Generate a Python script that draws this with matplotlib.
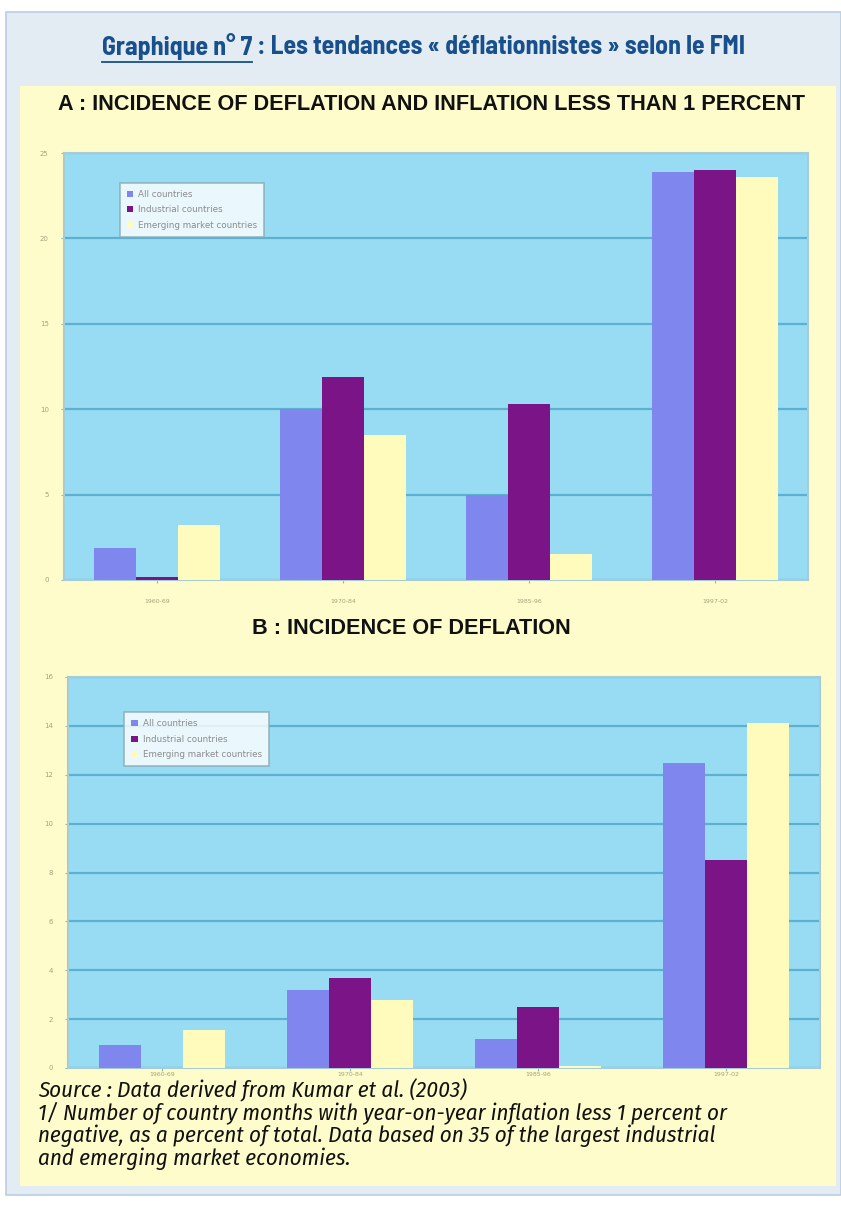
import matplotlib
matplotlib.use("Agg")
import matplotlib.pyplot as plt
import numpy as np
from matplotlib.patches import Rectangle

# Data (percent of country months)
periods = ["1960-69", "1970-84", "1985-96", "1997-02"]
series_names = ["All countries", "Industrial countries", "Emerging market countries"]

low_infl_all = [1.9, 10.0, 5.0, 23.9]
low_infl_ind = [0.2, 11.9, 10.3, 24.0]
low_infl_em = [3.2, 8.5, 1.5, 23.6]
yticks_a = [0, 5, 10, 15, 20, 25]

defl_all = [0.95, 3.2, 1.2, 12.5]
defl_ind = [0.0, 3.7, 2.5, 8.5]
defl_em = [1.55, 2.8, 0.1, 14.1]
yticks_b = [0, 2, 4, 6, 8, 10, 12, 14, 16]

W, H = 841, 1206
COL_ALL = "#7f86ee"
COL_IND = "#7a1487"
COL_EM = "#fffbbd"
PLOT_BG = "#98dcf4"
GRID = "#5eb0cf"
PANEL = "#fdfcca"
FRAME = "#e3ebf3"
TITLE_BLUE = "#17508c"
TICK_COL = "#a7a27e"
TITLE_FONT = ["Barlow Semi Condensed", "Liberation Sans"]
BODY_FONT = ["Fira Sans Condensed", "Liberation Sans"]


def px(x, y, w, h):
    # pixel box (top-left origin) -> figure fraction
    return [x / W, 1 - (y + h) / H, w / W, h / H]


fig = plt.figure(figsize=(W / 100, H / 100), dpi=100)
fig.patch.set_facecolor("white")
renderer = fig.canvas.get_renderer()

bg = fig.add_axes([0, 0, 1, 1])
bg.set_xlim(0, W)
bg.set_ylim(H, 0)
bg.axis("off")
bg.add_patch(Rectangle((6, 12), W - 6, 1183, facecolor=FRAME, edgecolor="#b9cfe3", lw=1.2))
bg.add_patch(Rectangle((20, 86), 816, 1100, facecolor=PANEL, edgecolor="none"))


def fit_text(x, y, s, width, family, size=12, **kw):
    # place text, then rescale its font size so it spans the given pixel width
    t = bg.text(x, y, s, fontsize=size, family=family, **kw)
    w0 = t.get_window_extent(renderer).width
    t.set_fontsize(size * width / w0)
    return t


# Title with underlined lead
title_lead = "Graphique n° 7"
title_rest = " : Les tendances « déflationnistes » selon le FMI"
tt = fit_text(102, 47, title_lead + title_rest, 646, TITLE_FONT, fontweight="bold",
              color=TITLE_BLUE, va="center", ha="left")
size = tt.get_fontsize()
tt.set_text(title_lead)
x_end = 102 + tt.get_window_extent(renderer).width
bg.plot([102, x_end], [62, 62], color=TITLE_BLUE, lw=1.3)
bg.text(x_end, 47, title_rest, fontsize=size, fontweight="bold", family=TITLE_FONT,
        color=TITLE_BLUE, va="center", ha="left")

sub_a = fit_text(432, 104, "A : INCIDENCE OF DEFLATION AND INFLATION LESS THAN 1 PERCENT", 744,
                 ["Liberation Sans"], fontweight="bold", color="#111111", va="center",
                 ha="center")
bg.text(411, 629, "B : INCIDENCE OF DEFLATION", fontsize=sub_a.get_fontsize(),
        family=["Liberation Sans"], fontweight="bold", color="#111111", va="center",
        ha="center")

notes = ["Source : Data derived from Kumar et al. (2003)",
         "1/ Number of country months with year-on-year inflation less 1 percent or",
         "negative, as a percent of total. Data based on 35 of the largest industrial",
         "and emerging market economies."]
note_y = [1090, 1113, 1136, 1159]
ref = fit_text(38, note_y[1], notes[1], 690, BODY_FONT, style="italic", color="#111111",
               va="center", ha="left")
note_size = ref.get_fontsize()
for i, line in enumerate(notes):
    if i == 1:
        continue
    bg.text(38, note_y[i], line, fontsize=note_size, style="italic", family=BODY_FONT,
            color="#111111", va="center", ha="left")


def bar_panel(rect, a, b, c, ticks, legend_box, xpad):
    ax = fig.add_axes(px(*rect))
    ax.set_facecolor(PLOT_BG)
    x = np.arange(len(periods))
    w = 0.225
    ax.bar(x - w, a, w, color=COL_ALL, edgecolor="none", label=series_names[0], zorder=3)
    ax.bar(x, b, w, color=COL_IND, edgecolor="none", label=series_names[1], zorder=3)
    ax.bar(x + w, c, w, color=COL_EM, edgecolor="none", label=series_names[2], zorder=3)
    ax.set_xlim(-0.5, len(periods) - 0.5)
    ax.set_ylim(ticks[0], ticks[-1])
    ax.set_yticks(ticks)
    ax.set_yticklabels([str(t) for t in ticks], fontsize=5, color=TICK_COL)
    ax.set_xticks(x)
    ax.set_xticklabels(periods, fontsize=4.5, color=TICK_COL)
    ax.yaxis.grid(True, color=GRID, lw=1.6, zorder=0)
    ax.tick_params(axis="y", length=2, color="#9ab8b8", pad=9)
    ax.tick_params(axis="x", length=2, color="#9ab8b8", pad=xpad)
    for s in ax.spines.values():
        s.set_color("#a9cbd3")
        s.set_linewidth(1.5)
    leg = ax.legend(loc="upper left", bbox_to_anchor=legend_box, fontsize=6.3,
                    frameon=True, fancybox=False, handlelength=0.7, handleheight=0.7,
                    handletextpad=0.6, labelcolor="#8c8c8c", borderpad=0.8,
                    labelspacing=0.75, borderaxespad=0)
    leg.get_frame().set_edgecolor("#8aa9b3")
    leg.get_frame().set_linewidth(1.2)
    leg.get_frame().set_facecolor("white")
    return ax


bar_panel((64, 153, 744, 427), low_infl_all, low_infl_ind, low_infl_em, yticks_a,
          (0.075, 0.93), 12)
bar_panel((68, 677, 752, 391), defl_all, defl_ind, defl_em, yticks_b, (0.075, 0.91), 1)

fig.savefig("out.png", dpi=100, facecolor=fig.get_facecolor())
